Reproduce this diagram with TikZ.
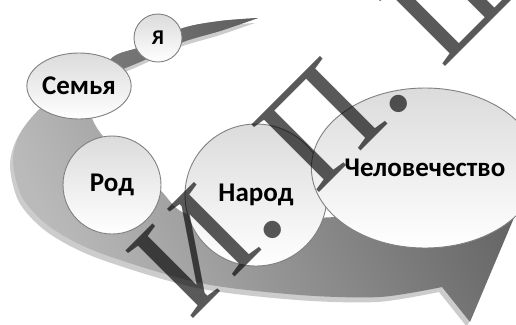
\documentclass[tikz,border=0pt]{standalone}
\usepackage{fontspec}
\setmainfont{Carlito}
\newfontfamily\znakfont{Liberation Serif}
\usetikzlibrary{shapes.geometric}

% контур ленты со стрелкой
\newcommand{\lenta}{(258,18) -- plot[smooth] coordinates {(258,18) (220,31) (183,42) (140,62) (95,80) (50,100) (22,130) (13,160) (22,197) (50,227) (100,253) (200,283) (300,295) (380,297) (442,287)} -- (470,322) -- (516,213) -- plot[smooth] coordinates {(505,216) (420,214) (337,217) (260,220) (187,214) (160,190) (120,155) (97,128) (92,108) (110,60) (140,47) (183,28) (220,21) (258,18)} -- cycle}

\tikzset{
	puzyr/.style={ellipse, inner sep=0pt, draw=black!50, line width=0.9pt, top color=black!14, bottom color=white, text=black, font=\bfseries\fontsize{27}{27}\selectfont},
}

\begin{document}
\begin{tikzpicture}[x=1pt, y=-1pt]
	\useasboundingbox (0,0) rectangle (516,324);
	% Лента
		% кромка
			\fill[black!20, shift={(-3,5)}] \lenta;
		% лицевая сторона
			\shade[left color=black!27, right color=black!62, shading angle=115] \lenta;
		% тёмный хвост вверху
			\begin{scope}
				\clip (96,100) -- (100,0) -- (270,0) -- (270,100) -- cycle;
				\clip \lenta;
				\shade[left color=black!52, right color=black!64] (96,0) rectangle (270,100);
			\end{scope}
	
	% Круги
		\node[puzyr, minimum size=48pt, font=\bfseries\fontsize{21}{21}\selectfont] (ya) at (158,38) {Я};
		\node[puzyr, minimum size=66pt] (semya) at (79,86) {Семья};
		\node[puzyr, minimum size=98pt] (rod) at (112,185) {Род};
		\node[puzyr, minimum size=142pt] (narod) at (256,195) {Народ};
		\node[puzyr, minimum width=177pt, minimum height=160pt] (chelovechestvo) at (425,168) {Человечество};
	
	% Надпись поверх
		\node[rotate=45, anchor=base west, inner sep=0pt, text=black, text opacity=0.65, font=\znakfont\fontsize{146}{146}\selectfont] (znak) at (190,322) {И. П. Ш};
\end{tikzpicture}
\end{document}
